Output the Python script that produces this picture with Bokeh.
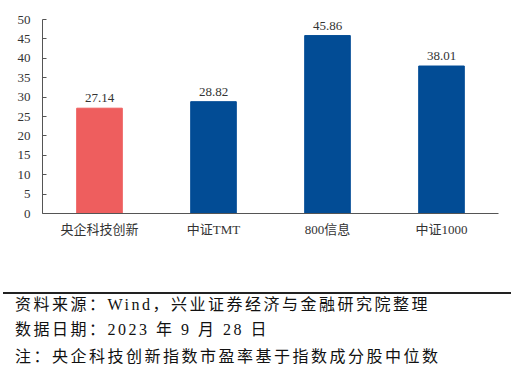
from bokeh.plotting import figure
from bokeh.models import ColumnDataSource, Range1d, FixedTicker, LabelSet, Div
from bokeh.layouts import column
from bokeh.embed import file_html
from bokeh.resources import INLINE
from bokeh.core.properties import value

categories = ["央企科技创新", "中证TMT", "800信息", "中证1000"]
pe_values = [27.14, 28.82, 45.86, 38.01]
bar_colors = ["#EE5E5E", "#024C95", "#024C95", "#024C95"]
y_ticks = [0, 5, 10, 15, 20, 25, 30, 35, 40, 45, 50]
footer_lines = [
    "资料来源：Wind，兴业证券经济与金融研究院整理",
    "数据日期：2023 年 9 月 28 日",
    "注：央企科技创新指数市盈率基于指数成分股中位数",
]

FONT = "Liberation Serif, Noto Sans CJK SC"
W, H = 515, 240

src = ColumnDataSource(dict(
    cat=categories, val=pe_values, color=bar_colors,
    lab=["%.2f" % v for v in pe_values],
))

p = figure(x_range=categories, y_range=Range1d(0, 50), width=W, height=H,
           output_backend="svg", toolbar_location=None,
           min_border_left=42, min_border_right=17, min_border_top=19, min_border_bottom=H - 213)
p.vbar(x="cat", top="val", width=0.4, color="color", source=src)
labels = LabelSet(x="cat", y="val", text="lab", source=src, text_align="center",
                  text_baseline="bottom", y_offset=6, text_font_size="13px",
                  text_font=value(FONT), text_color="#333333")
p.add_layout(labels)

p.outline_line_color = None
p.xgrid.grid_line_color = None
p.ygrid.grid_line_color = None

p.yaxis.ticker = FixedTicker(ticks=y_ticks)
p.yaxis.major_tick_in = 4
p.yaxis.major_tick_out = 0
p.yaxis.minor_tick_line_color = None
p.yaxis.axis_line_color = "#555555"
p.yaxis.major_tick_line_color = "#555555"
p.yaxis.major_label_text_font = FONT
p.yaxis.major_label_text_font_size = "13px"
p.yaxis.major_label_text_color = "#333333"
p.yaxis.major_label_standoff = 12

p.xaxis.major_tick_line_color = None
p.xaxis.major_tick_in = 0
p.xaxis.major_tick_out = 0
p.xaxis.axis_line_color = "#555555"
p.xaxis.major_label_text_font = FONT
p.xaxis.major_label_text_font_size = "13px"
p.xaxis.major_label_text_color = "#333333"
p.xaxis.major_label_standoff = 8

# footer block below the chart (top of block = canvas y 240)
line_tops = [305 - 240, 330 - 240, 357 - 240]
parts = ['<div style="position:relative;width:515px;height:126px;font-family:\'Liberation Serif\',\'Noto Sans CJK SC\';font-size:16px;letter-spacing:2.5px;color:#111;">',
         '<div style="position:absolute;left:3px;top:52px;width:508px;height:2px;background:#222;"></div>']
for yc, line in zip(line_tops, footer_lines):
    parts.append('<div style="position:absolute;left:15px;top:%dpx;height:20px;line-height:20px;white-space:nowrap;">%s</div>' % (yc - 10, line))
parts.append('</div>')
footer = Div(text="".join(parts), width=515, height=126, margin=0)

layout = column(p, footer, spacing=0)
open("out.html", "w").write(file_html(layout, INLINE))
